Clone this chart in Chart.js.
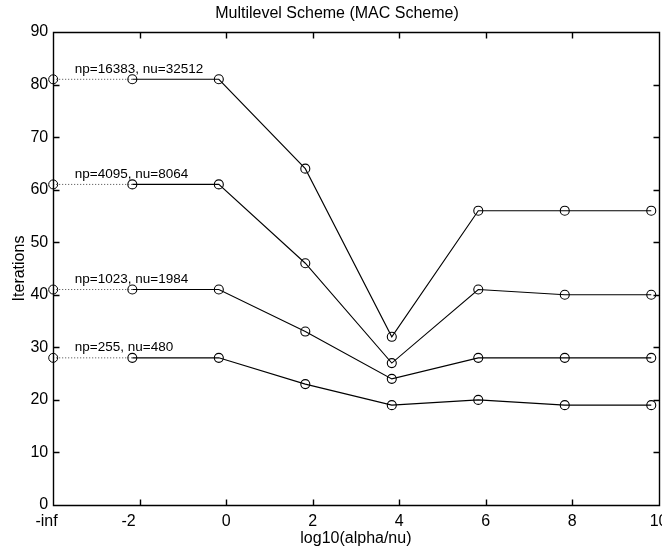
<!DOCTYPE html>
<html>
<head>
<meta charset="utf-8">
<script src="https://cdn.jsdelivr.net/npm/chart.js@4.4.1/dist/chart.umd.min.js"></script>
<style>
html,body{margin:0;padding:0;overflow:hidden;background:#fff;width:662px;height:550px}
#wrap{width:674px;height:550px}
canvas{display:block}
</style>
</head>
<body>
<div id="wrap"><canvas id="c" width="674" height="550" style="width:674px;height:550px"></canvas></div>
<script>
// ---- data ----
const chartTitle = 'Multilevel Scheme (MAC Scheme)';
const xAxisTitle = 'log10(alpha/nu)';
const yAxisTitle = 'Iterations';
// first position stands for "-inf"
const xPositions = [-4, -2.17, -0.17, 1.83, 3.83, 5.83, 7.83, 9.83];
const xTickValues = [-4, -2, 0, 2, 4, 6, 8, 10];
const xTickLabels = ['-inf', '-2', '0', '2', '4', '6', '8', '10'];
const yTickValues = [0, 10, 20, 30, 40, 50, 60, 70, 80, 90];
const seriesLabels = ['np=16383, nu=32512', 'np=4095, nu=8064', 'np=1023, nu=1984', 'np=255, nu=480'];
const iterNp16383 = [81, 81, 81, 64, 32, 56, 56, 56];
const iterNp4095  = [61, 61, 61, 46, 27, 41, 40, 40];
const iterNp1023  = [41, 41, 41, 33, 24, 28, 28, 28];
const iterNp255   = [28, 28, 28, 23, 19, 20, 19, 19];
const labelX = -3.5;
const labelRise = 2;

const allSeries = [iterNp16383, iterNp4095, iterNp1023, iterNp255];

Chart.defaults.font.family = "'Liberation Sans', Arial, Helvetica, sans-serif";
Chart.defaults.color = '#000';

const datasets = [];
allSeries.forEach((s, k) => {
  datasets.push({
    label: seriesLabels[k] + ' (-inf)',
    data: [{x: xPositions[0], y: s[0]}, {x: xPositions[1], y: s[1]}],
    showLine: true,
    borderColor: '#444',
    borderWidth: 1,
    borderDash: [1, 2],
    pointRadius: [4.5, 0],
    pointBorderColor: '#000',
    pointBackgroundColor: 'rgba(0,0,0,0)',
    pointBorderWidth: 1,
    clip: false
  });
  datasets.push({
    label: seriesLabels[k],
    data: s.slice(1).map((v, i) => ({x: xPositions[i + 1], y: v})),
    showLine: true,
    borderColor: '#000',
    borderWidth: 1.1,
    pointRadius: 4.5,
    pointBorderColor: '#000',
    pointBackgroundColor: 'rgba(0,0,0,0)',
    pointBorderWidth: 1.1,
    clip: false
  });
});

const boxPlugin = {
  id: 'matlabBox',
  afterDatasetsDraw(chart) {
    const {ctx, chartArea: a, scales: {x, y}} = chart;
    ctx.save();
    ctx.strokeStyle = '#000';
    ctx.lineWidth = 1.4;
    const L = Math.round(a.left) + 0.5, R = Math.round(a.right) + 0.5;
    const T = Math.round(a.top) + 0.5, B = Math.round(a.bottom) + 0.5;
    ctx.beginPath();
    ctx.rect(L, T, R - L, B - T);
    xTickValues.forEach(v => {
      const px = Math.round(x.getPixelForValue(v)) + 0.5;
      ctx.moveTo(px, B); ctx.lineTo(px, B - 6);
      ctx.moveTo(px, T); ctx.lineTo(px, T + 6);
    });
    yTickValues.forEach(v => {
      const py = Math.round(y.getPixelForValue(v)) + 0.5;
      ctx.moveTo(L, py); ctx.lineTo(L + 6, py);
      ctx.moveTo(R, py); ctx.lineTo(R - 6, py);
    });
    ctx.stroke();
    // series annotations
    ctx.fillStyle = '#000';
    ctx.font = "13.5px 'Liberation Sans', Arial, sans-serif";
    ctx.textAlign = 'left';
    ctx.textBaseline = 'middle';
    allSeries.forEach((s, k) => {
      ctx.fillText(seriesLabels[k], x.getPixelForValue(labelX), y.getPixelForValue(s[0] + labelRise));
    });
    ctx.restore();
  }
};

const pad = n => '\u00A0'.repeat(n);

new Chart(document.getElementById('c'), {
  type: 'scatter',
  data: {datasets},
  options: {
    responsive: false,
    animation: false,
    layout: {autoPadding: false, padding: {left: 0, right: 0, top: 0, bottom: 0}},
    plugins: {
      legend: {display: false},
      tooltip: {enabled: false},
      title: {
        display: true, text: chartTitle, color: '#000',
        font: {size: 16, weight: 'normal'},
        padding: {top: 4, bottom: 8.8}
      }
    },
    scales: {
      x: {
        type: 'linear', min: -4, max: 10,
        grid: {display: false, drawTicks: false},
        border: {display: false},
        afterBuildTicks: s => { s.ticks = xTickValues.map(v => ({value: v})); },
        ticks: {
          autoSkip: false, maxRotation: 0, minRotation: 0, padding: 6.5,
          font: {size: 16}, color: '#000',
          callback: (v, i) => {
            const lab = xTickLabels[i];
            if (lab === '-inf') return lab + pad(3);
            if (lab.startsWith('-')) return lab + pad(5);
            return lab;
          }
        },
        title: {display: true, text: xAxisTitle, font: {size: 16}, color: '#000', padding: {top: -8, bottom: 1.6}}
      },
      y: {
        type: 'linear', min: 0, max: 90,
        grid: {display: false, drawTicks: false},
        border: {display: false},
        afterBuildTicks: s => { s.ticks = yTickValues.map(v => ({value: v})); },
        ticks: {padding: 5, font: {size: 16}, color: '#000'},
        title: {display: true, text: yAxisTitle, font: {size: 16}, color: '#000', padding: {top: 10, bottom: -3.8}}
      }
    }
  },
  plugins: [boxPlugin]
});
</script>
</body>
</html>
